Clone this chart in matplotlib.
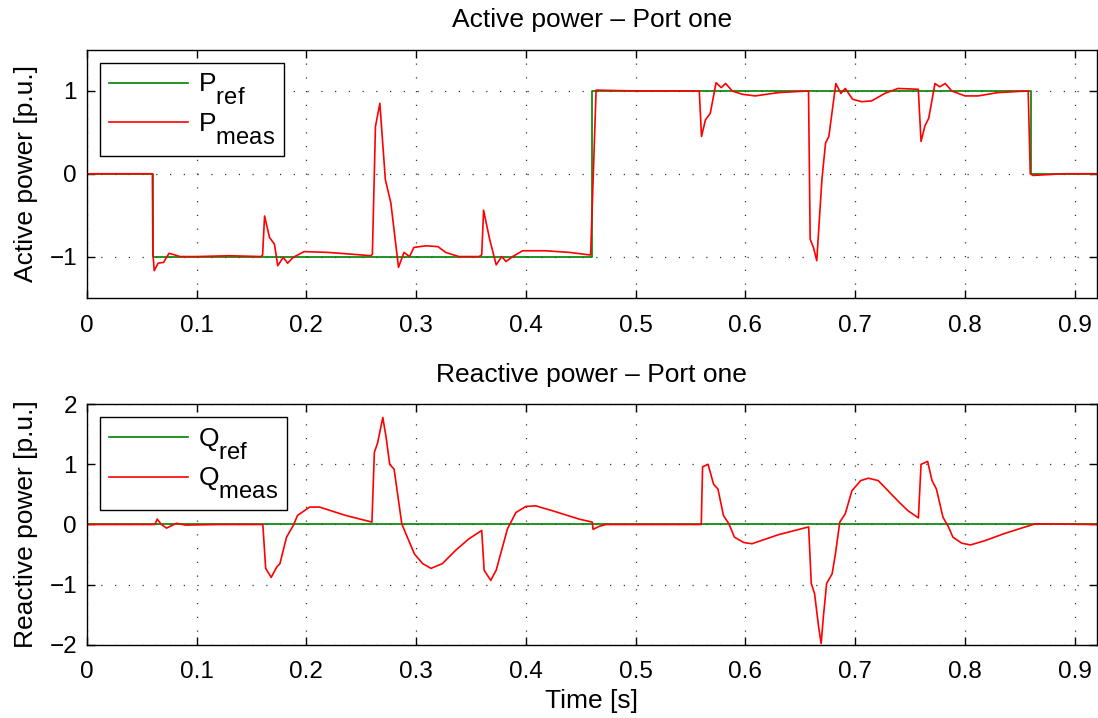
import numpy as np
import matplotlib
matplotlib.use('Agg')
import matplotlib.pyplot as plt
import matplotlib._mathtext as mt

plt.rcParams['font.family'] = ['Liberation Sans', 'DejaVu Sans']
plt.rcParams['mathtext.fontset'] = 'custom'
plt.rcParams['mathtext.rm'] = 'Liberation Sans'
plt.rcParams['mathtext.it'] = 'Liberation Sans'
# MATLAB-style subscripts: almost full size and dropped well below the baseline
mt.SHRINK_FACTOR = 0.9
mt.FontConstantsBase.sub1 = 0.95

# Reference set-points (step changes)
P_REF_T = [0.0, 0.06, 0.46, 0.86, 0.92]
P_REF_V = [0.0, -1.0, 1.0, 0.0]

P_T = [0.0, 0.0598, 0.0602, 0.0615, 0.065, 0.07, 0.075, 0.085, 0.10, 0.13, 0.159,
       0.1602, 0.162, 0.1665, 0.171, 0.174, 0.179, 0.183, 0.188, 0.198, 0.22, 0.24, 0.259,
       0.2602, 0.263, 0.267, 0.272, 0.277, 0.284, 0.289, 0.294, 0.298, 0.309, 0.32,
       0.327, 0.339, 0.3575, 0.3598, 0.3615, 0.367, 0.373, 0.378, 0.382, 0.388, 0.397,
       0.418, 0.44, 0.458, 0.459, 0.464, 0.50, 0.53, 0.558, 0.56, 0.5636, 0.568, 0.5733,
       0.578, 0.582, 0.588, 0.597, 0.609, 0.63, 0.6575, 0.659, 0.662, 0.665, 0.6697,
       0.673, 0.676, 0.6824, 0.687, 0.691, 0.6976, 0.706, 0.715, 0.727, 0.739, 0.7575,
       0.76, 0.7636, 0.767, 0.7727, 0.777, 0.782, 0.788, 0.80, 0.812, 0.83, 0.8576,
       0.8595, 0.862, 0.89, 0.92]
P_V = [0.0, 0.0, -0.95, -1.17, -1.08, -1.07, -0.96, -1.0, -1.0, -0.99, -1.0,
       -0.98, -0.51, -0.77, -0.85, -1.11, -1.01, -1.08, -1.01, -0.94, -0.95, -0.97, -0.99,
       -0.97, 0.57, 0.85, -0.07, -0.35, -1.13, -0.95, -1.0, -0.89, -0.87, -0.88,
       -0.95, -1.0, -1.0, -0.98, -0.44, -0.79, -1.10, -1.0, -1.06, -1.0, -0.93,
       -0.93, -0.95, -0.98, -0.98, 1.01, 1.0, 1.0, 1.0, 0.45, 0.65, 0.73, 1.10,
       1.04, 1.09, 1.0, 0.96, 0.94, 0.98, 1.0, -0.79, -0.89, -1.05, -0.07,
       0.37, 0.45, 1.09, 0.97, 1.03, 0.90, 0.87, 0.88, 0.97, 1.03, 1.02,
       0.39, 0.58, 0.67, 1.09, 1.05, 1.09, 1.0, 0.94, 0.94, 0.98, 1.0,
       0.0, -0.02, 0.0, 0.0]

Q_T = [0.0, 0.062, 0.0642, 0.068, 0.0727, 0.0818, 0.09, 0.12, 0.1604, 0.163, 0.168,
       0.173, 0.176, 0.182, 0.188, 0.192, 0.203, 0.212, 0.236, 0.2598, 0.262, 0.265,
       0.2697, 0.2727, 0.276, 0.28, 0.287, 0.292, 0.2985, 0.306, 0.3136, 0.324, 0.336,
       0.348, 0.3598, 0.362, 0.368, 0.373, 0.377, 0.3833, 0.391, 0.40, 0.409, 0.424,
       0.4485, 0.4605, 0.4612, 0.467, 0.473, 0.52, 0.5598, 0.561, 0.566, 0.571, 0.575,
       0.58, 0.585, 0.59, 0.5985, 0.606, 0.63, 0.6576, 0.66, 0.663, 0.6667, 0.669,
       0.671, 0.674, 0.679, 0.682, 0.686, 0.691, 0.697, 0.705, 0.712, 0.721, 0.73,
       0.739, 0.748, 0.7576, 0.76, 0.7636, 0.766, 0.77, 0.774, 0.78, 0.785, 0.789,
       0.797, 0.805, 0.818, 0.836, 0.855, 0.864, 0.92]
Q_V = [0.0, 0.0, 0.09, 0.0, -0.06, 0.02, -0.01, 0.0, 0.0, -0.73, -0.88,
       -0.71, -0.65, -0.21, -0.02, 0.15, 0.29, 0.29, 0.15, 0.04, 1.2, 1.36,
       1.78, 1.45, 1.0, 0.92, 0.01, -0.21, -0.49, -0.65, -0.73, -0.65, -0.43,
       -0.24, -0.10, -0.76, -0.93, -0.76, -0.49, -0.07, 0.20, 0.30, 0.31, 0.23,
       0.09, 0.04, -0.08, -0.03, 0.0, 0.0, 0.0, 0.96, 1.0, 0.67, 0.59,
       0.15, 0.01, -0.21, -0.30, -0.32, -0.17, -0.04, -0.98, -1.15, -1.7, -1.98,
       -1.54, -0.98, -0.82, -0.49, 0.04, 0.18, 0.56, 0.73, 0.77, 0.73, 0.56,
       0.39, 0.23, 0.11, 1.0, 1.03, 1.05, 0.73, 0.59, 0.12, -0.04, -0.21,
       -0.31, -0.34, -0.27, -0.15, -0.04, 0.01, 0.0]

Q_REF_T = [0.0, 0.92]
Q_REF_V = [0.0, 0.0]

GREEN = '#008000'
RED = '#ff0000'
FS_TICK = 17.5
FS_LAB = 19

fig = plt.figure(figsize=(10.98, 7.18), dpi=100)
ax1 = fig.add_axes([0.079, 0.585, 0.9198, 0.346])
ax2 = fig.add_axes([0.079, 0.102, 0.9198, 0.335])


def style(ax, yticks):
    ax.set_xlim(0, 0.92)
    ax.set_xticks(np.arange(0, 0.91, 0.1))
    ax.set_xticklabels(['0'] + ['%.1f' % v for v in np.arange(0.1, 0.91, 0.1)])
    ax.set_yticks(yticks)
    ax.set_yticklabels([('\u2212%d' % -v) if v < 0 else '%d' % v for v in yticks])
    ax.tick_params(direction='in', top=True, right=True, labelsize=FS_TICK,
                   length=6, width=1.0)
    ax.tick_params(axis='x', pad=12)
    ax.tick_params(axis='y', pad=7)
    ax.grid(True, color='#333333', linestyle=(0, (1, 10)), linewidth=0.9)
    for s in ax.spines.values():
        s.set_linewidth(1.0)


def add_legend(ax):
    leg = ax.legend(loc='upper left', fontsize=FS_LAB, handlelength=3.0,
                    handletextpad=0.35, borderpad=0.35, labelspacing=0.15,
                    fancybox=False, edgecolor='k', framealpha=1, borderaxespad=0.5)
    leg.get_frame().set_linewidth(1.0)


ax1.plot(P_REF_T, P_REF_V + [P_REF_V[-1]], drawstyle='steps-post', color=GREEN, lw=1.2,
         label=r'P$_{\mathrm{ref}}$')
ax1.plot(P_T, P_V, color=RED, lw=1.2, label=r'P$_{\mathrm{meas}}$')
ax1.set_ylim(-1.5, 1.5)
style(ax1, [-1, 0, 1])
ax1.set_title('Active power \u2013 Port one', fontsize=FS_LAB, pad=16)
ax1.set_ylabel('Active power [p.u.]', fontsize=FS_LAB, labelpad=8)
add_legend(ax1)

ax2.plot(Q_REF_T, Q_REF_V, color=GREEN, lw=1.2, label=r'Q$_{\mathrm{ref}}$')
ax2.plot(Q_T, Q_V, color=RED, lw=1.2, label=r'Q$_{\mathrm{meas}}$')
ax2.set_ylim(-2, 2)
style(ax2, [-2, -1, 0, 1, 2])
ax2.set_title('Reactive power \u2013 Port one', fontsize=FS_LAB, pad=16)
ax2.set_ylabel('Reactive power [p.u.]', fontsize=FS_LAB, labelpad=8)
ax2.set_xlabel('Time [s]', fontsize=FS_LAB, labelpad=4)
add_legend(ax2)

fig.savefig('out.png', dpi=100)
